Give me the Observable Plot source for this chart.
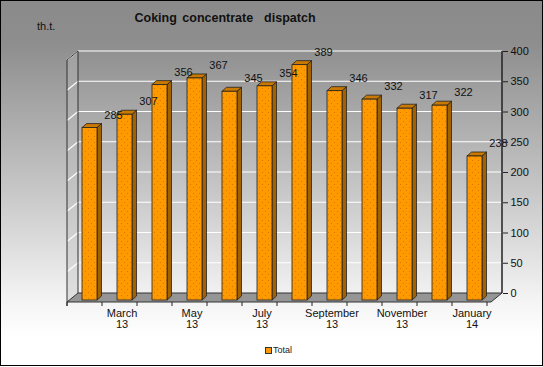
<!DOCTYPE html>
<html><head><meta charset="utf-8">
<script src="https://cdn.jsdelivr.net/npm/d3@7"></script>
<script src="https://cdn.jsdelivr.net/npm/@observablehq/plot@0.6"></script>
<style>
html,body{margin:0;padding:0;background:#fff;}
#chart{position:relative;width:543px;height:367px;overflow:hidden;
  background:linear-gradient(to bottom,#8a8a8a 0%,#8e8e8e 12%,#c4c4c4 50%,#f4f4f4 82%,#ffffff 92%);
  font-family:"Liberation Sans",Arial,sans-serif;color:#111;}
#chart svg{position:absolute;left:0;top:0;}
#border{position:absolute;left:0;top:0;width:543px;height:366px;box-sizing:border-box;border:1px solid #000;pointer-events:none;}
.title{position:absolute;left:0;top:11px;width:450px;text-align:center;font-weight:bold;font-size:12.5px;word-spacing:2px;white-space:pre;}
.unit{position:absolute;left:37px;top:20px;font-size:11px;}
.legend{position:absolute;left:265px;top:345px;font-size:9px;display:flex;align-items:center;color:#222;}
.legend i{display:inline-block;width:5px;height:5px;background:#FF9900;border:1px solid #333;margin-right:1px;}
</style></head>
<body>
<div id="chart">
  <div class="title">Coking concentrate  dispatch</div>
  <div class="unit">th.t.</div>
  <div class="legend"><i></i>Total</div>
  <div id="border"></div>
</div>
<script>
const monthNames = ["February","March","April","May","June","July","August","September","October","November","December","January"];
const years = ["13","13","13","13","13","13","13","13","13","13","13","14"];
const values = [285, 307, 356, 367, 345, 354, 389, 346, 332, 317, 322, 238];
const yTicks = [0, 50, 100, 150, 200, 250, 300, 350, 400];
const shownLabelIdx = [1, 3, 5, 7, 9, 11];

const months = monthNames.map((m, i) => m + " " + years[i]);
const data = months.map((m, i) => ({month: m, value: values[i], label: monthNames[i] + "\n" + years[i]}));

// 3D geometry (pixel offsets)
const DEPTH_X = -11, DEPTH_Y = 9;   // back plane -> front plane
const FX = -8, FY = 7;              // back plane -> bar front face
const BX = 4.5, BY = -4;            // bar depth

function frame3d(index, scales) {
  const g = d3.create("svg:g");
  const [xa, xb] = scales.x.range();
  const yTop = scales.y(400), yBot = scales.y(0);
  g.append("path").attr("d", `M${xa},${yTop}L${xa},${yBot}L${xa+DEPTH_X},${yBot+DEPTH_Y}L${xa+DEPTH_X},${yTop+DEPTH_Y}Z`)
    .attr("fill", "#bdbdbd").attr("fill-opacity", 0.35);
  for (const t of yTicks) {
    if (t === 0) continue;
    const yy = scales.y(t);
    g.append("path").attr("d", `M${xa+DEPTH_X},${yy+DEPTH_Y}L${xa},${yy}L${xb},${yy}`)
      .attr("fill", "none").attr("stroke", "#fff").attr("stroke-width", 1.2);
  }
  g.append("path").attr("d", `M${xa},${yBot}L${xb},${yBot}L${xb+DEPTH_X},${yBot+DEPTH_Y}L${xa+DEPTH_X},${yBot+DEPTH_Y}Z`)
    .attr("fill", "#959595").attr("stroke", "#333").attr("stroke-width", 1);
  g.append("path").attr("d", `M${xa},${yBot}L${xa},${yTop}L${xa+DEPTH_X},${yTop+DEPTH_Y}L${xa+DEPTH_X},${yBot+DEPTH_Y+4}`)
    .attr("fill", "none").attr("stroke", "#333").attr("stroke-width", 1);
  g.append("line").attr("x1", xb).attr("x2", xb).attr("y1", yTop).attr("y2", yBot)
    .attr("stroke", "#222").attr("stroke-width", 1.5);
  const step = scales.x.step();
  for (let k = 0; k <= months.length; k++) {
    const xx = xa + DEPTH_X + k * step;
    g.append("line").attr("x1", xx).attr("x2", xx).attr("y1", yBot + DEPTH_Y).attr("y2", yBot + DEPTH_Y + 4)
      .attr("stroke", "#222");
  }
  return g.node();
}

function bars3d(index, scales) {
  const g = d3.create("svg:g");
  const defs = g.append("defs");
  const pat = defs.append("pattern").attr("id", "dots").attr("patternUnits", "userSpaceOnUse")
    .attr("width", 6).attr("height", 6);
  pat.append("rect").attr("width", 6).attr("height", 6).attr("fill", "#FF9900");
  pat.append("rect").attr("x", 1).attr("y", 1).attr("width", 1).attr("height", 1).attr("fill", "#D97A00");
  pat.append("rect").attr("x", 4).attr("y", 4).attr("width", 1).attr("height", 1).attr("fill", "#D97A00");
  const bw = scales.x.bandwidth();
  const y0 = scales.y(0);
  data.forEach(d => {
    const xl = scales.x(d.month) + FX, xr = xl + bw;
    const yt = scales.y(d.value) + FY, yb = y0 + FY;
    g.append("path").attr("d", `M${xr},${yt}L${xr+BX},${yt+BY}L${xr+BX},${yb+BY}L${xr},${yb}Z`)
      .attr("fill", "#A36200").attr("stroke", "#222").attr("stroke-width", 0.8);
    g.append("path").attr("d", `M${xl},${yt}L${xl+BX},${yt+BY}L${xr+BX},${yt+BY}L${xr},${yt}Z`)
      .attr("fill", "#C97800").attr("stroke", "#222").attr("stroke-width", 0.8);
    g.append("rect").attr("x", xl).attr("y", yt).attr("width", bw).attr("height", yb - yt)
      .attr("fill", "url(#dots)").attr("stroke", "#222").attr("stroke-width", 0.8);
  });
  return g.node();
}

const plot = Plot.plot({
  width: 543, height: 367,
  marginTop: 51, marginBottom: 74, marginLeft: 78, marginRight: 41,
  style: {background: "transparent", fontFamily: "'Liberation Sans', Arial, sans-serif", fontSize: "11px", color: "#111", overflow: "visible"},
  x: {type: "band", domain: months, paddingInner: 0.575, paddingOuter: 0.2875, align: 0.5, axis: null},
  y: {domain: [0, 400], axis: null},
  marks: [
    frame3d,
    Plot.axisY(yTicks, {anchor: "right", tickSize: 5, tickPadding: 3, stroke: "#222", fill: "#111", fontSize: 11, label: null}),
    bars3d,
    Plot.text(data, {x: "month", y: "value", text: d => String(d.value), dx: 15.5, dy: -6, fontSize: 11, fill: "#111"}),
    Plot.text(shownLabelIdx.map(i => data[i]), {x: "month", y: () => 0, text: "label", dx: DEPTH_X, dy: DEPTH_Y + 7, lineAnchor: "top", lineHeight: 1.0, fontSize: 11, fill: "#111"})
  ]
});
document.getElementById("chart").insertBefore(plot, document.getElementById("border"));
</script>
</body></html>
